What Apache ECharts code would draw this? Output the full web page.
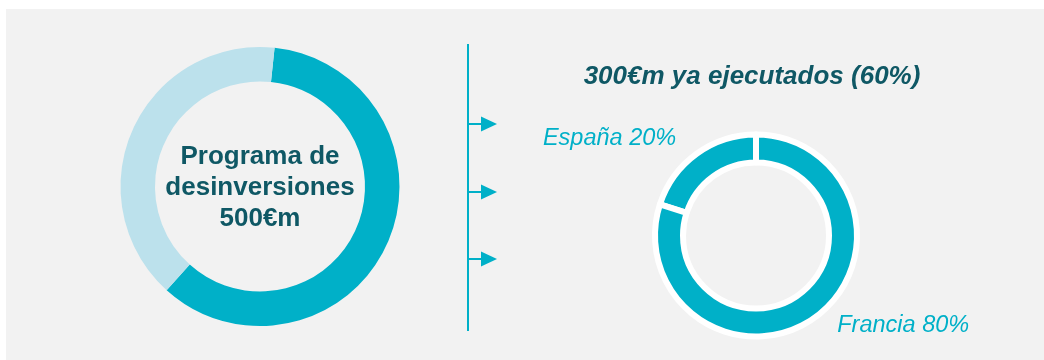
<!DOCTYPE html>
<html>
<head>
<meta charset="utf-8">
<script src="https://cdn.jsdelivr.net/npm/echarts@6/dist/echarts.min.js"></script>
<style>
  html, body { margin: 0; padding: 0; background: #ffffff; }
  #chart { width: 1044px; height: 360px; }
</style>
</head>
<body>
<div id="chart"></div>
<script>
// programa total: ejecutado / pendiente (%)
const totalNames = ["Ejecutado", "Pendiente"];
const totalValues = [60, 40];
// desglose de lo ejecutado por país (%)
const countryNames = ["España", "Francia"];
const countryValues = [20, 80];
// textos
const centerLines = ["Programa de", "desinversiones", "500€m"];
const headline = "300€m ya ejecutados (60%)";

const CYAN = "#00b0c8";
const LIGHT = "#bce1ec";
const TEAL = "#0f5865";
const FONT = "Liberation Sans, Arial, sans-serif";

const chart = echarts.init(document.getElementById("chart"));

// flechas del separador
const arrowYs = [124, 192, 259];
const arrows = [];
arrowYs.forEach((y) => {
  arrows.push({
    type: "line",
    shape: { x1: 468, y1: y, x2: 482, y2: y },
    style: { stroke: CYAN, lineWidth: 2 },
  });
  arrows.push({
    type: "polygon",
    shape: { points: [[481, y - 7.5], [497, y], [481, y + 7.5]] },
    style: { fill: CYAN },
  });
});

const option = {
  backgroundColor: "#ffffff",
  animation: false,
  graphic: [
    {
      type: "rect",
      z: -10,
      shape: { x: 6, y: 9, width: 1040, height: 355 },
      style: { fill: "#f2f2f2" },
    },
    {
      type: "line",
      shape: { x1: 468, y1: 44, x2: 468, y2: 331 },
      style: { stroke: CYAN, lineWidth: 2 },
    },
    ...arrows,
    {
      type: "text",
      style: {
        x: 260,
        y: 188,
        text: centerLines.join("\n"),
        align: "center",
        verticalAlign: "middle",
        fill: TEAL,
        font: "bold 26px " + FONT,
        lineHeight: 31,
      },
    },
    {
      type: "text",
      style: {
        x: 752,
        y: 77,
        text: headline,
        align: "center",
        verticalAlign: "middle",
        fill: TEAL,
        font: "italic bold 26px " + FONT,
      },
    },
  ],
  series: [
    {
      type: "pie",
      center: [260, 186.5],
      radius: [105, 139.5],
      startAngle: 84,
      clockwise: true,
      silent: true,
      label: { show: false },
      labelLine: { show: false },
      data: totalNames.map((n, i) => ({
        name: n,
        value: totalValues[i],
        itemStyle: { color: i === 0 ? CYAN : LIGHT },
      })),
    },
    {
      type: "pie",
      center: [756, 235.5],
      radius: [73, 101],
      startAngle: 90,
      clockwise: false,
      silent: true,
      avoidLabelOverlap: false,
      itemStyle: { color: CYAN, borderColor: "#ffffff", borderWidth: 6 },
      label: {
        show: true,
        position: "outside",
        formatter: "{b} {c}%",
        color: CYAN,
        fontFamily: FONT,
        fontStyle: "italic",
        fontSize: 23.5,
        distanceToLabelLine: 0,
      },
      labelLine: { show: false, length: 19.5, length2: 9 },
      data: countryNames.map((n, i) => ({
        name: n,
        value: countryValues[i],
        labelLine: i === 0 ? { length: 19.5, length2: 9 } : { length: 10, length2: 16 },
      })),
    },
  ],
};

chart.setOption(option);
</script>
</body>
</html>
